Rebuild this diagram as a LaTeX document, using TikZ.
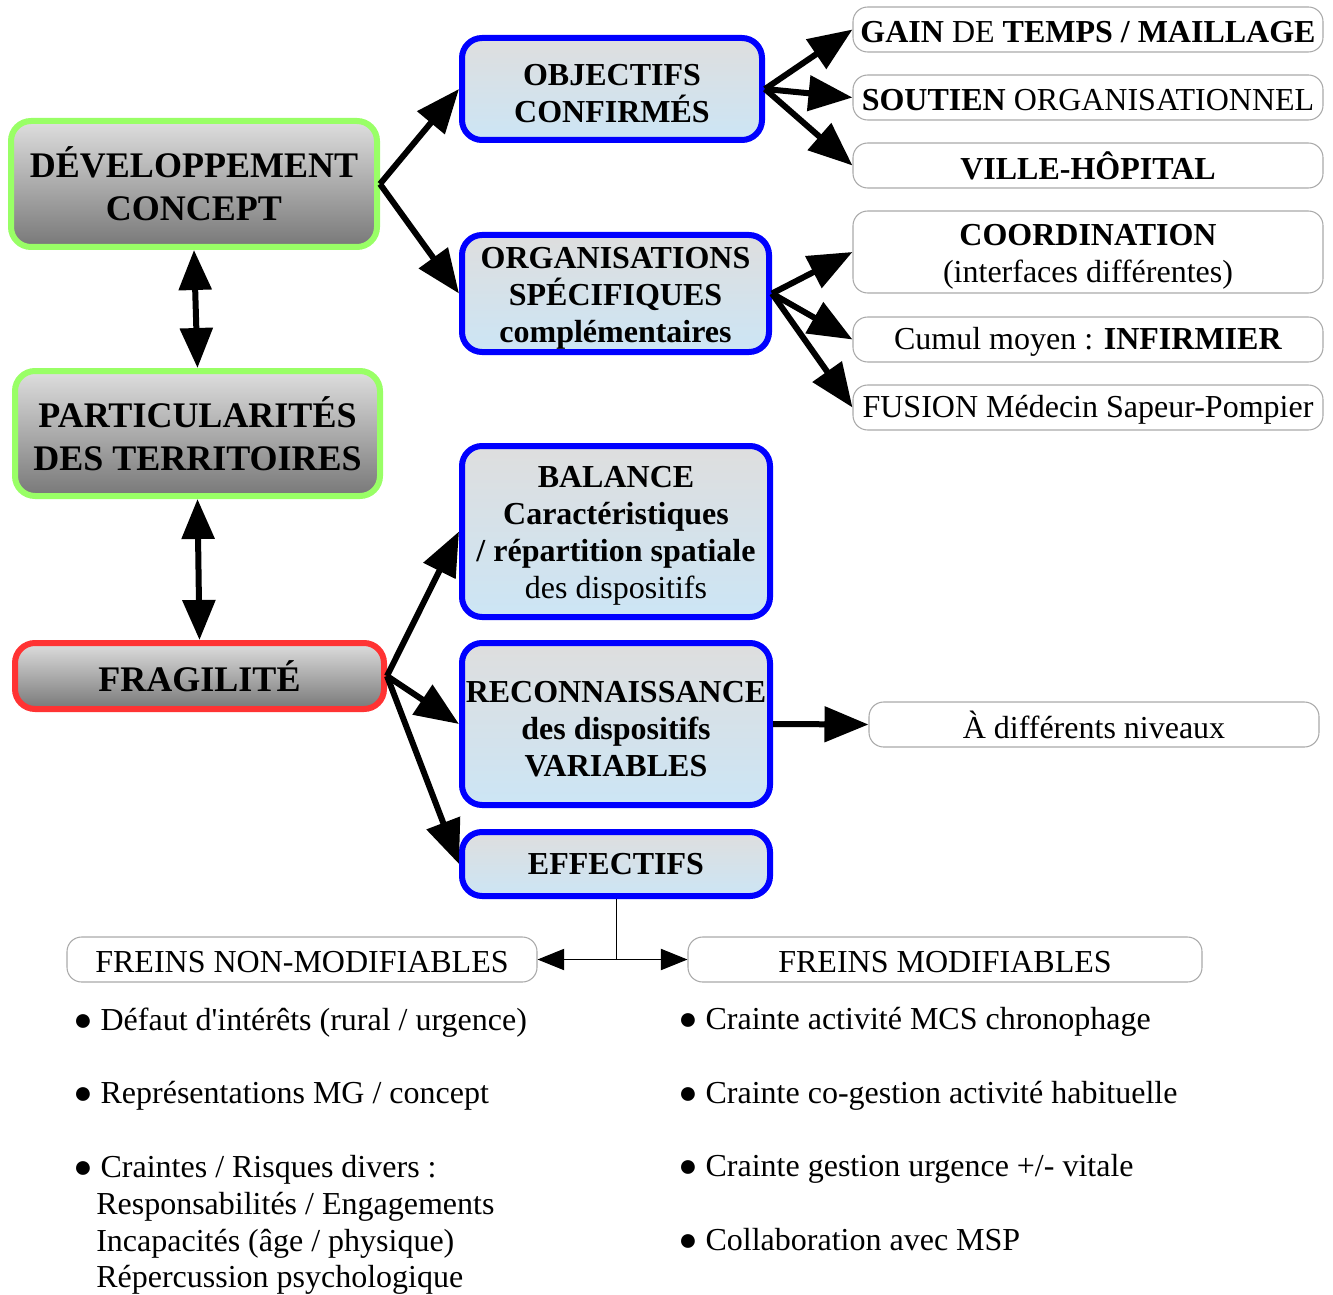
\documentclass[tikz,border=0pt]{standalone}
\usepackage{fontspec}
\setmainfont{Liberation Serif}
\usetikzlibrary{arrows.meta, positioning}
\definecolor{topgrey}{RGB}{222,222,222}
\definecolor{botgrey}{RGB}{120,120,120}
\definecolor{botblue}{RGB}{204,229,245}
\definecolor{devgreen}{RGB}{153,255,102}
\definecolor{fragred}{RGB}{255,51,51}
\definecolor{linegrey}{RGB}{170,170,170}
\newcommand{\lowfirst}{\rule{0pt}{23pt}}

\begin{document}
\begin{tikzpicture}[
        x=0.75pt, y=-0.75pt,
        greybox/.style={rectangle, rounded corners=15pt, line width=4.5pt, top color=topgrey, bottom color=botgrey, inner sep=0pt, align=center, font=\fontsize{27}{32}\selectfont\bfseries},
        bluebox/.style={rectangle, draw=blue, rounded corners=15pt, line width=4.5pt, top color=topgrey, bottom color=botblue, inner sep=0pt, align=center, minimum width=231pt, font=\fontsize{24}{27.75}\selectfont\bfseries},
        textbox/.style={rectangle, draw=linegrey, rounded corners=11pt, line width=0.8pt, fill=white, inner sep=0pt, align=center, minimum width=352.5pt, minimum height=33.75pt, font=\fontsize{24}{27.75}\selectfont, execute at begin node=\rule{0pt}{20pt}},
        itemtext/.style={anchor=base west, inner sep=0pt, align=left, font=\fontsize{24}{27.75}\selectfont},
        arrow/.style={-{Triangle[length=33pt, width=26pt]}, line width=4.5pt},
        dblarrow/.style={{Triangle[length=30pt, width=24pt]}-{Triangle[length=30pt, width=24pt]}, line width=4.5pt},
        thinarrow/.style={-{Triangle[length=20pt, width=16pt]}, line width=0.75pt}
    ]
    \useasboundingbox (0,0) rectangle (1333,1294);

    % Left column
    \node[greybox, draw=devgreen, minimum width=274.5pt, minimum height=94.5pt] (dev) at (194,184) {DÉVELOPPEMENT\\CONCEPT};
    \node[greybox, draw=devgreen, minimum width=273.75pt, minimum height=93.75pt] (part) at (197.5,433.5) {PARTICULARITÉS\\DES TERRITOIRES};
    \node[greybox, draw=fragred, minimum width=276.75pt, minimum height=49.5pt] (frag) at (199.5,676) {FRAGILITÉ};

    % Middle column
    \node[bluebox, minimum width=225pt, minimum height=76.5pt] (obj) at (612,89) {\lowfirst OBJECTIFS\\CONFIRMÉS};
    \node[bluebox, minimum width=230.25pt, minimum height=87.75pt] (org) at (615.5,293.5) {\lowfirst ORGANISATIONS\\SPÉCIFIQUES\\complémentaires};
    \node[bluebox, minimum height=128.25pt] (bal) at (616,531.5) {\lowfirst BALANCE\\Caractéristiques\\/ répartition spatiale\\\mdseries des dispositifs};
    \node[bluebox, minimum height=121.5pt] (rec) at (616,724) {\lowfirst RECONNAISSANCE\\des dispositifs\\VARIABLES};
    \node[bluebox, minimum height=48pt] (eff) at (616,864) {EFFECTIFS};

    % Right column
    \node[textbox] (gain) at (1088,29.5) {\textbf{GAIN} DE \textbf{TEMPS / MAILLAGE}};
    \node[textbox] (soutien) at (1088,97.5) {\textbf{SOUTIEN} ORGANISATIONNEL};
    \node[textbox] (ville) at (1088,165.5) {\textbf{VILLE-HÔPITAL}};
    \node[textbox, minimum height=61.5pt] (coord) at (1088,252) {\lowfirst\textbf{COORDINATION}\\(interfaces différentes)};
    \node[textbox] (cumul) at (1088,339.5) {Cumul moyen : \textbf{INFIRMIER}};
    \node[textbox] (fusion) at (1088,407.5) {FUSION Médecin Sapeur-Pompier};
    \node[textbox, minimum width=337.5pt] (niveaux) at (1094,724.5) {À différents niveaux};

    % Freins
    \node[textbox] (fixes) at (302,959.5) {FREINS NON-MODIFIABLES};
    \node[textbox, minimum width=385.5pt] (modif) at (945,959.5) {FREINS MODIFIABLES};
    \coordinate (split) at (eff.south |- fixes.east);

    \node[itemtext] (fixa) at (73,1030) {● Défaut d\textquotesingle intérêts (rural / urgence)};
    \node[itemtext] (fixb) at (73,1103) {● Représentations MG / concept};
    \node[itemtext] (fixc) at (73,1177) {● Craintes / Risques divers :};
    \node[itemtext] (fixd) at (96,1214) {Responsabilités / Engagements};
    \node[itemtext] (fixe) at (96,1251) {Incapacités (âge / physique)};
    \node[itemtext] (fixf) at (96,1287) {Répercussion psychologique};

    \node[itemtext] (moda) at (678,1029) {● Crainte activité MCS chronophage};
    \node[itemtext] (modb) at (678,1103) {● Crainte co-gestion activité habituelle};
    \node[itemtext] (modc) at (678,1176) {● Crainte gestion urgence +/- vitale};
    \node[itemtext] (modd) at (678,1250) {● Collaboration avec MSP};

    % Arrows
    \draw[arrow] (dev.east) -- (obj.west);
    \draw[arrow] (dev.east) -- (org.west);
    \draw[dblarrow] (dev.south) -- (part.north);
    \draw[dblarrow] (part.south) -- (frag.north);
    \draw[arrow] (frag.east) -- (bal.west);
    \draw[arrow] (frag.east) -- (rec.west);
    \draw[arrow] (frag.east) -- (eff.west);
    \draw[arrow] (obj.east) -- (gain.west);
    \draw[arrow] (obj.east) -- (soutien.west);
    \draw[arrow] (obj.east) -- (ville.west);
    \draw[arrow] (org.east) -- (coord.west);
    \draw[arrow] (org.east) -- (cumul.west);
    \draw[arrow] (org.east) -- (fusion.west);
    \draw[arrow] (rec.east) -- (niveaux.west);
    \draw[line width=0.75pt] (eff.south) -- (split);
    \draw[thinarrow] (split) -- (fixes.east);
    \draw[thinarrow] (split) -- (modif.west);

\end{tikzpicture}
\end{document}
